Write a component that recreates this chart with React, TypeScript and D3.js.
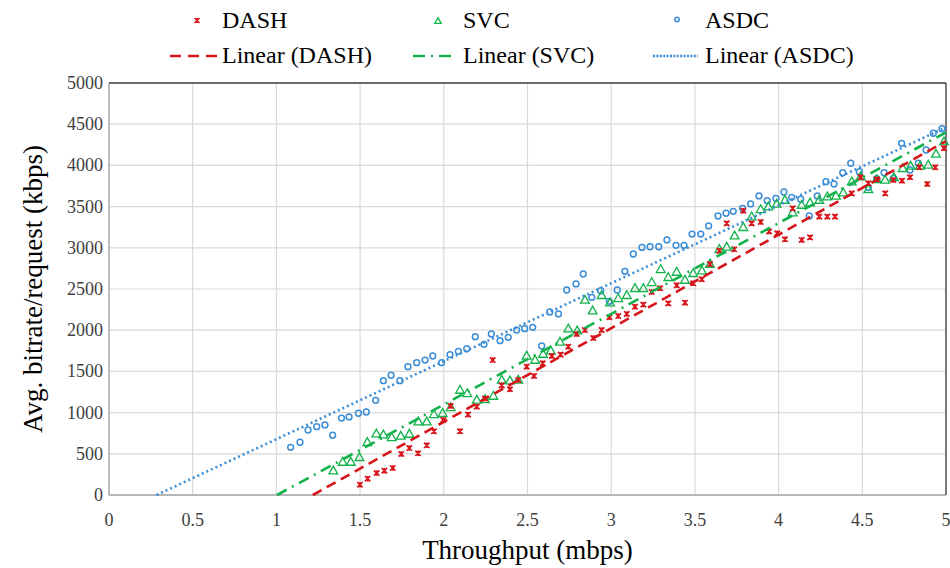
import React from 'react';
import * as d3 from 'd3';

const xTicks = [0, 0.5, 1, 1.5, 2, 2.5, 3, 3.5, 4, 4.5, 5];
const yTicks = [0, 500, 1000, 1500, 2000, 2500, 3000, 3500, 4000, 4500, 5000];

const dashX = [1.499, 1.545, 1.599, 1.645, 1.695, 1.746, 1.794, 1.846, 1.898, 1.941, 1.997, 2.041, 2.097, 2.145, 2.197, 2.246, 2.292, 2.346, 2.395, 2.445, 2.495, 2.539, 2.591, 2.645, 2.698, 2.744, 2.794, 2.843, 2.893, 2.943, 2.989, 3.042, 3.093, 3.142, 3.192, 3.242, 3.292, 3.341, 3.391, 3.441, 3.49, 3.541, 3.59, 3.646, 3.69, 3.734, 3.789, 3.839, 3.893, 3.943, 3.992, 4.038, 4.084, 4.138, 4.188, 4.243, 4.291, 4.337, 4.437, 4.49, 4.536, 4.586, 4.637, 4.685, 4.737, 4.785, 4.841, 4.888, 4.936, 4.988];
const dashY = [125, 198, 267, 295, 328, 498, 570, 506, 603, 773, 910, 1080, 773, 975, 1072, 1169, 1638, 1331, 1283, 1396, 1557, 1444, 1598, 1687, 1703, 1800, 1954, 2002, 1905, 2002, 2157, 2172, 2197, 2285, 2310, 2464, 2509, 2326, 2545, 2334, 2569, 2618, 2803, 2965, 3297, 2982, 3450, 3297, 3313, 3198, 3176, 3103, 3479, 3095, 3127, 3378, 3378, 3378, 3661, 3856, 3783, 3831, 3661, 3823, 3814, 3856, 3977, 3774, 3977, 4208];

const svcX = [1.34, 1.396, 1.444, 1.496, 1.543, 1.597, 1.639, 1.689, 1.743, 1.794, 1.848, 1.898, 1.941, 1.993, 2.041, 2.097, 2.14, 2.197, 2.246, 2.296, 2.346, 2.395, 2.445, 2.495, 2.545, 2.593, 2.639, 2.694, 2.744, 2.797, 2.843, 2.889, 2.943, 2.993, 3.042, 3.093, 3.142, 3.192, 3.242, 3.296, 3.341, 3.391, 3.441, 3.49, 3.542, 3.59, 3.646, 3.69, 3.737, 3.789, 3.839, 3.893, 3.939, 3.989, 4.038, 4.084, 4.138, 4.188, 4.243, 4.291, 4.343, 4.386, 4.437, 4.49, 4.536, 4.586, 4.636, 4.689, 4.741, 4.789, 4.845, 4.894, 4.94, 4.988];
const svcY = [295, 400, 400, 458, 640, 744, 732, 700, 716, 740, 890, 890, 979, 992, 1064, 1274, 1234, 1153, 1161, 1201, 1396, 1387, 1396, 1687, 1638, 1711, 1751, 1857, 2018, 1994, 2367, 2237, 2424, 2334, 2387, 2424, 2509, 2509, 2581, 2739, 2642, 2706, 2609, 2691, 2722, 2803, 2982, 3010, 3147, 3249, 3378, 3467, 3499, 3532, 3580, 3426, 3519, 3547, 3580, 3620, 3629, 3669, 3802, 3863, 3710, 3831, 3823, 3856, 3965, 3993, 3993, 4005, 4139, 4288];

const asdcX = [1.085, 1.141, 1.189, 1.241, 1.29, 1.336, 1.389, 1.434, 1.49, 1.537, 1.593, 1.639, 1.685, 1.738, 1.786, 1.838, 1.888, 1.934, 1.987, 2.037, 2.087, 2.137, 2.188, 2.24, 2.284, 2.336, 2.385, 2.435, 2.483, 2.531, 2.585, 2.633, 2.685, 2.734, 2.79, 2.833, 2.884, 2.937, 2.989, 3.036, 3.082, 3.132, 3.184, 3.232, 3.284, 3.333, 3.387, 3.435, 3.483, 3.535, 3.582, 3.638, 3.686, 3.729, 3.785, 3.833, 3.883, 3.932, 3.984, 4.032, 4.078, 4.132, 4.183, 4.231, 4.283, 4.331, 4.383, 4.431, 4.482, 4.536, 4.586, 4.63, 4.685, 4.735, 4.785, 4.835, 4.881, 4.924, 4.976];
const asdcY = [579, 640, 789, 829, 850, 725, 934, 947, 992, 1007, 1149, 1387, 1453, 1387, 1557, 1606, 1638, 1687, 1606, 1703, 1744, 1775, 1921, 1829, 1954, 1873, 1914, 2002, 2018, 2035, 1808, 2221, 2197, 2488, 2561, 2682, 2399, 2479, 2351, 2488, 2715, 2925, 3004, 3013, 3013, 3095, 3030, 3030, 3167, 3167, 3265, 3386, 3419, 3443, 3477, 3532, 3629, 3572, 3601, 3677, 3613, 3589, 3386, 3629, 3802, 3774, 3911, 4026, 3924, 3734, 3839, 3911, 3843, 4268, 3944, 4026, 4187, 4390, 4445];

const RED = '#D7141A';
const GREEN = '#12B24B';
const BLUE = '#3A8DD6';
const FONT = "'Liberation Serif', 'DejaVu Serif', serif";
const TS = { fontFamily: FONT };

const W = 950, H = 568;
const M = { left: 109, right: 946, top: 83, bottom: 495 };

function fit(xs: number[], ys: number[]) {
  const mx = d3.mean(xs)!, my = d3.mean(ys)!;
  let sxy = 0, sxx = 0;
  xs.forEach((x, i) => { sxy += (x - mx) * (ys[i] - my); sxx += (x - mx) * (x - mx); });
  const b = sxy / sxx;
  return { a: my - b * mx, b };
}

function starPath(cx: number, cy: number, r: number) {
  return `M${cx - r},${cy - r}L${cx + r},${cy + r}M${cx - r},${cy + r}L${cx + r},${cy - r}M${cx},${cy - r}L${cx},${cy + r}`;
}
function triPath(cx: number, cy: number, r: number) {
  return `M${cx},${cy - r}L${cx + r * 0.95},${cy + r * 0.7}L${cx - r * 0.95},${cy + r * 0.7}Z`;
}

export default function App() {
  const x = d3.scaleLinear().domain([0, 5]).range([M.left, M.right]);
  const y = d3.scaleLinear().domain([0, 5000]).range([M.bottom, M.top]);

  const series = [
    { name: 'DASH', xs: dashX, ys: dashY, color: RED, dash: '10,6' },
    { name: 'SVC', xs: svcX, ys: svcY, color: GREEN, dash: '11,6,2,6' },
    { name: 'ASDC', xs: asdcX, ys: asdcY, color: BLUE, dash: '2,3' },
  ];

  const trend = series.map(s => {
    const { a, b } = fit(s.xs, s.ys);
    const x0 = Math.max(0, -a / b);
    let x1 = 5;
    if (a + b * x1 > 5000) x1 = (5000 - a) / b;
    return { ...s, x0, y0: a + b * x0, x1, y1: a + b * x1 };
  });

  return (
    <svg width={W} height={H} style={{ position: 'absolute', left: 0, top: 0, background: '#fff' }}>
      <rect x={0} y={0} width={W} height={H} fill="#fff" />
      {yTicks.map(t => (
        <line key={'gy' + t} x1={M.left} x2={M.right} y1={y(t)} y2={y(t)} stroke="#D9D9D9" strokeWidth={1.2} />
      ))}
      {xTicks.map(t => (
        <line key={'gx' + t} x1={x(t)} x2={x(t)} y1={M.top} y2={M.bottom} stroke="#D9D9D9" strokeWidth={1.2} />
      ))}
      <line x1={M.left} x2={M.right} y1={M.bottom} y2={M.bottom} stroke="#A6A6A6" strokeWidth={1.3} />
      <line x1={M.left} x2={M.left} y1={M.top} y2={M.bottom} stroke="#A6A6A6" strokeWidth={1.3} />
      <line x1={M.left} x2={M.right} y1={M.top} y2={M.top} stroke="#404040" strokeWidth={1.3} />
      <line x1={M.right} x2={M.right} y1={M.top} y2={M.bottom} stroke="#404040" strokeWidth={1.3} />
      {xTicks.map(t => (
        <text key={'xl' + t} x={x(t)} y={526} textAnchor="middle" fontSize={18} fill="#404040" style={TS}>{String(t)}</text>
      ))}
      {yTicks.map(t => (
        <text key={'yl' + t} x={103} y={y(t) + 6} textAnchor="end" fontSize={18} fill="#404040" style={TS}>{String(t)}</text>
      ))}
      <text x={(M.left + M.right) / 2} y={559} textAnchor="middle" fontSize={27} fill="#000" style={TS}>Throughput (mbps)</text>
      <text transform={`translate(42,${(M.top + M.bottom) / 2}) rotate(-90)`} textAnchor="middle" fontSize={27} fill="#000" style={TS}>Avg. bitrate/request (kbps)</text>
      <g>
        {asdcX.map((v, i) => (
          <circle key={'a' + i} cx={x(v)} cy={y(asdcY[i])} r={2.9} fill="none" stroke={BLUE} strokeWidth={1.5} />
        ))}
        {svcX.map((v, i) => (
          <path key={'s' + i} d={triPath(x(v), y(svcY[i]), 4.6)} fill="none" stroke={GREEN} strokeWidth={1.3} />
        ))}
        {dashX.map((v, i) => (
          <path key={'d' + i} d={starPath(x(v), y(dashY[i]), 2.7)} fill="none" stroke={RED} strokeWidth={1.7} />
        ))}
      </g>
      {trend.map(t => (
        <line key={'t' + t.name} x1={x(t.x0)} y1={y(t.y0)} x2={x(t.x1)} y2={y(t.y1)} stroke={t.color} strokeWidth={2.6} strokeDasharray={t.dash} />
      ))}
      <g fontSize={24} fill="#000">
        <path d={starPath(197, 20.5, 2.5)} stroke={RED} strokeWidth={1.6} fill="none" />
        <text x={222} y={28} style={TS}>DASH</text>
        <path d={triPath(438, 21, 3.4)} stroke={GREEN} strokeWidth={1.3} fill="none" />
        <text x={463} y={28} style={TS}>SVC</text>
        <circle cx={677} cy={19.5} r={2.2} stroke={BLUE} strokeWidth={1.5} fill="none" />
        <text x={705} y={28} style={TS}>ASDC</text>

        <line x1={170} x2={219} y1={56} y2={56} stroke={RED} strokeWidth={2.6} strokeDasharray="11,7" />
        <text x={222} y={63} style={TS}>Linear (DASH)</text>
        <line x1={413} x2={455} y1={56} y2={56} stroke={GREEN} strokeWidth={2.6} strokeDasharray="12,6,2,6" />
        <text x={463} y={63} style={TS}>Linear (SVC)</text>
        <line x1={653} x2={698} y1={56} y2={56} stroke={BLUE} strokeWidth={2.6} strokeDasharray="2,1.4" />
        <text x={705} y={63} style={TS}>Linear (ASDC)</text>
      </g>
    </svg>
  );
}
